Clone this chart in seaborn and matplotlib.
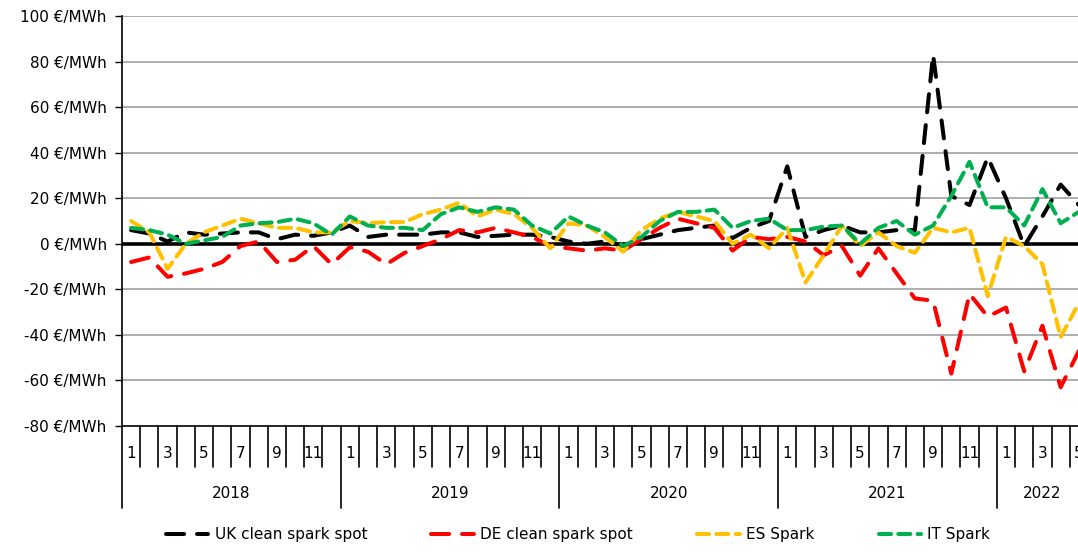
import numpy as np
import pandas as pd
import seaborn as sns
import matplotlib.pyplot as plt

# monthly values, Jan 2018 .. May 2022 (EUR/MWh)
uk = [6, 4.5, 1, 5, 4, 4.5, 5, 5, 2, 4, 3.5, 5,
      8, 3, 4, 4, 4, 5, 5, 3, 3.5, 4, 4, 3,
      1, 0, 1, -1, 2, 4, 6, 7, 8, 2.5, 7, 10,
      34, 3, 6, 8, 5, 5, 6, 6, 83, 21, 17, 38,
      20, -1, 12, 26, 17]
de = [-8, -6, -14.5, -13, -11, -8, -1, 1, -8, -7, -1, -9,
      -1.5, -3.5, -9, -4, -1, 2, 6, 5, 7, 5, 3, -1,
      -2, -3, -2, -3, 2, 7, 11, 9, 7, -3, 3, 2,
      3, 1, -5, -1, -14, -2, -13, -24, -25, -57, -22, -32,
      -28, -56, -36, -63, -47]
es = [10, 5, -11, 0, 5, 8, 11, 9, 7, 7, 5, 5,
      10, 9, 9.5, 9.5, 13, 15, 18, 12, 15, 13, 7, -2,
      9, 8, 3, -3.5, 6, 11, 14, 12, 10, 0, 4, -2,
      7, -17, -5, 8, -1, 5, -1, -4, 7, 5, 7, -23,
      3, -1, -9, -41, -26]
it = [7, 6, 4, 0, 1.5, 3, 8, 9, 9.5, 11, 9, 4,
      12, 8, 7, 7, 6, 13, 16, 14, 16, 15, 8, 4.5,
      12, 8, 5, -1, 3, 10, 14, 14, 15, 7, 10, 11,
      6, 6, 7.5, 8, 0, 7, 10, 4, 8, 21, 36, 16,
      16, 8, 24, 9, 14]
years = [2018, 2019, 2020, 2021, 2022]
month_labels = ["1", "3", "5", "7", "9", "11"]
y_ticks = [-80, -60, -40, -20, 0, 20, 40, 60, 80, 100]

n = len(uk)
x = np.arange(n) + 0.5

sns.set_style("white")
plt.rcParams['font.family'] = ['DejaVu Sans']
plt.rcParams['text.color'] = 'black'
plt.rcParams['ytick.color'] = 'black'
plt.rcParams['ytick.labelcolor'] = 'black'

fig = plt.figure(figsize=(10.78, 5.52), dpi=100)
ax = fig.add_axes([122/1078, 126/552, (1088-122)/1078, 410/552])

# gridlines
for yv in y_ticks:
    if yv not in (0, -80):
        ax.axhline(yv, color='#a0a0a0', lw=1.2, zorder=0)
ax.axhline(0, color='black', lw=2.6, zorder=1)

series = [("UK clean spark spot", uk, "black", (4.5, 3.2)),
          ("DE clean spark spot", de, "#ff0000", (4.5, 3.2)),
          ("ES Spark", es, "#ffc000", (3.0, 1.8)),
          ("IT Spark", it, "#00b050", (3.0, 1.8))]
handles = []
for name, vals, col, dash in series:
    sns.lineplot(x=x, y=vals, ax=ax, color=col, lw=2.9, label=name, zorder=3)
    line = ax.lines[-1]
    line.set_dashes(dash)
    line.set_dash_capstyle('round')
    handles.append(line)

ax.set_xlim(0, n)
ax.set_ylim(-80, 100)
ax.set_yticks(y_ticks)
ax.set_yticklabels([f"{v} €/MWh" for v in y_ticks], fontsize=11, color='black')
ax.tick_params(axis='y', direction='out', length=5, width=1, left=True, color='black', pad=6)
ax.set_xticks([])
for s in ['top', 'right']:
    ax.spines[s].set_visible(False)
for s in ['left', 'bottom']:
    ax.spines[s].set_color('black')
    ax.spines[s].set_linewidth(1.2)

# two-level category axis: months and years
xt = ax.get_xaxis_transform()
m_len = 41 / 410
y_len = 82 / 410
for i in range(n + 1):
    ln = y_len if i % 12 == 0 else m_len
    ax.plot([i, i], [0, -ln], transform=xt, color='black', lw=1.2, clip_on=False)
for i in range(n):
    m = i % 12 + 1
    if m % 2 == 1:
        ax.text(i + 0.5, -28 / 410, month_labels[(m - 1) // 2], transform=xt,
                ha='center', va='center', fontsize=11, color='black')
for k, yr in enumerate(years):
    start = k * 12
    end = min(start + 12, n)
    ax.text((start + end) / 2, -68 / 410, str(yr), transform=xt,
            ha='center', va='center', fontsize=11, color='black')

ax.get_legend().remove()
leg = fig.legend(handles=handles, labels=[s[0] for s in series], loc='center',
                 bbox_to_anchor=(578/1078, 1 - 535/552), ncol=4, frameon=False,
                 fontsize=11, handlelength=2.8, columnspacing=4.2, handletextpad=0.4)
for t in leg.get_texts():
    t.set_color('black')

fig.savefig("out.png", dpi=100)
